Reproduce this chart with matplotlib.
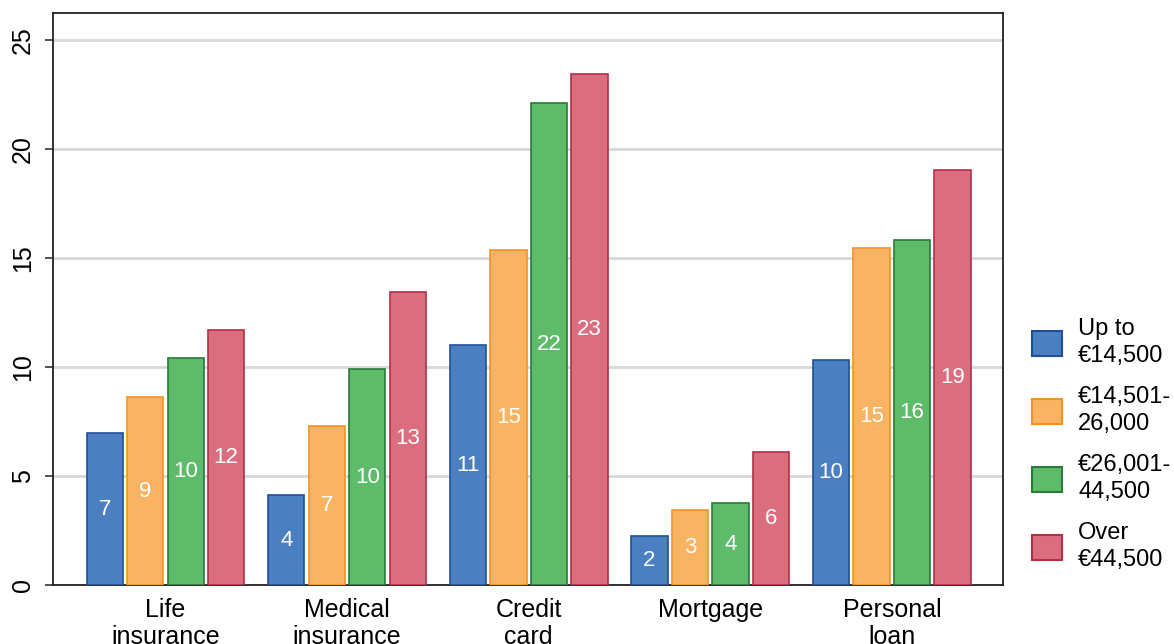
import numpy as np
import matplotlib.pyplot as plt
from matplotlib.patches import Patch

categories = ["Life\ninsurance", "Medical\ninsurance", "Credit\ncard", "Mortgage", "Personal\nloan"]
series_names = ["Up to\n€14,500", "€14,501-\n26,000", "€26,001-\n44,500", "Over\n€44,500"]
up_to_14500 = [6.97, 4.13, 11.0, 2.25, 10.32]
from_14501 = [8.62, 7.29, 15.37, 3.44, 15.46]
from_26001 = [10.41, 9.9, 22.1, 3.76, 15.83]
over_44500 = [11.7, 13.44, 23.44, 6.1, 19.04]

fills = ["#4A80C2", "#F8B462", "#5DBB6A", "#DA6E7E"]
edges = ["#1F4F98", "#F39224", "#2A7A3A", "#B03048"]

plt.rcParams["font.family"] = ["Liberation Sans", "DejaVu Sans"]

fig = plt.figure(figsize=(11.74, 6.44), dpi=100)
ax = fig.add_axes([0.045, 0.0916, 0.809, 0.888])

x = np.arange(len(categories))
step = 0.223
width = 0.2
all_series = [up_to_14500, from_14501, from_26001, over_44500]
for i, vals in enumerate(all_series):
    pos = x + (i - 1.5) * step
    ax.bar(pos, vals, width, color=fills[i], edgecolor=edges[i], linewidth=1.2, zorder=3)
    for px, v in zip(pos, vals):
        ax.text(px, v / 2, f"{v:.0f}", ha="center", va="center", color="white",
                fontsize=16, zorder=4)

ax.set_xlim(-0.62, 4.61)
ax.set_ylim(0, 26.24)
ax.set_yticks([0, 5, 10, 15, 20, 25])
ax.set_yticklabels(["0", "5", "10", "15", "20", "25"], rotation=90, va="center", fontsize=18)
ax.set_xticks(x)
ax.set_xticklabels(categories, fontsize=18, linespacing=1.2)
ax.tick_params(axis="x", length=0, pad=9)
ax.tick_params(axis="y", length=6, width=1.2, color="#333333", pad=7)
ax.grid(axis="y", color="#D8D8D8", linewidth=2, zorder=0)
for s in ax.spines.values():
    s.set_color("#222222")
    s.set_linewidth(1.3)

handles = [Patch(facecolor=fills[i], edgecolor=edges[i], linewidth=1.5) for i in range(4)]
leg = ax.legend(handles, series_names, loc="center left", bbox_to_anchor=(1.031, 0.245),
                frameon=False, handlelength=1.25, handleheight=1.25,
                labelspacing=0.8, handletextpad=0.7, borderaxespad=0, borderpad=0,
                prop={"size": 17})
for t in leg.get_texts():
    t.set_linespacing(1.3)

fig.savefig("out.png", dpi=100)
